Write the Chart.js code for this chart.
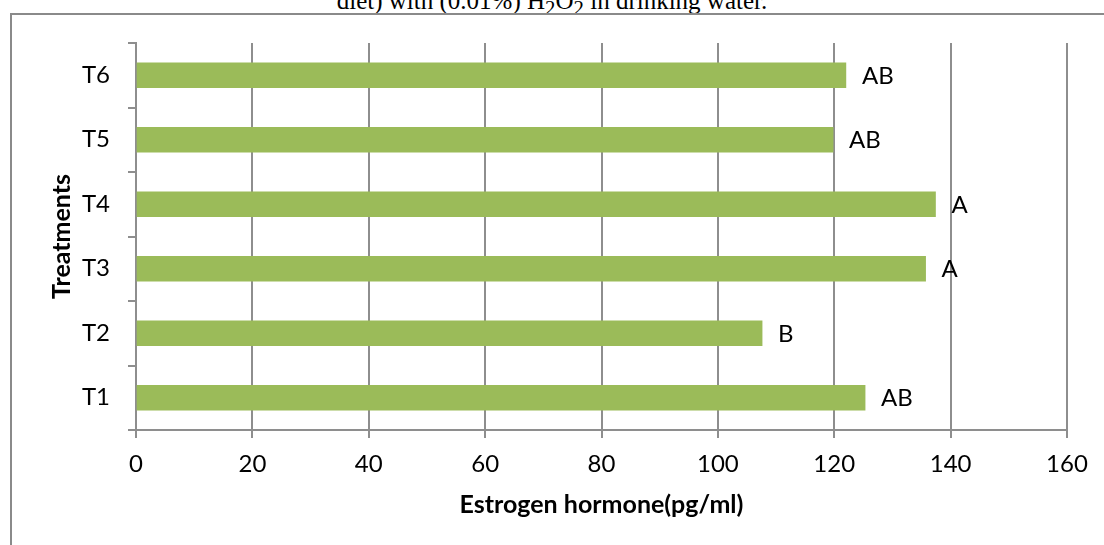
<!DOCTYPE html>
<html>
<head>
<meta charset="utf-8">
<script src="https://cdn.jsdelivr.net/npm/chart.js@4/dist/chart.umd.min.js"></script>
<style>
  html, body { margin: 0; padding: 0; background: #fff; }
  body { width: 1104px; height: 545px; position: relative; overflow: hidden; }
  .title {
    position: absolute; left: 0; right: 0; top: -13px;
    text-align: center; font-family: "Liberation Serif", "DejaVu Serif", serif;
    font-size: 25px; color: #000; white-space: nowrap;
  }
  .frame {
    position: absolute; left: 10px; top: 13px; width: 1110px; height: 560px;
    border: 2px solid #8a8a8a; box-sizing: border-box;
  }
  #chart { position: absolute; left: 0; top: 0; }
</style>
</head>
<body>
<div class="title">diet) with (0.01%) H<sub>2</sub>O<sub>2</sub> in drinking water.</div>
<div class="frame"></div>
<canvas id="chart" width="1104" height="545"></canvas>
<script>
const treatments = ['T1', 'T2', 'T3', 'T4', 'T5', 'T6'];
const estrogen = [125.3, 107.6, 135.7, 137.4, 119.8, 122.0];
const letters = ['AB', 'B', 'A', 'A', 'AB', 'AB'];
const xTicks = [0, 20, 40, 60, 80, 100, 120, 140, 160];

const font = 'Lato, "Open Sans", sans-serif';
const gridGray = '#8e8e8e';

// letters written just past the end of each bar
const letterLabels = {
  id: 'letterLabels',
  afterDatasetsDraw(chart) {
    const { ctx } = chart;
    const meta = chart.getDatasetMeta(0);
    ctx.save();
    ctx.font = '24px ' + font;
    ctx.fillStyle = '#000';
    ctx.textBaseline = 'middle';
    ctx.textAlign = 'left';
    meta.data.forEach((bar, i) => ctx.fillText(letters[i], bar.x + 16, bar.y + 1));
    ctx.restore();
  }
};

new Chart(document.getElementById('chart'), {
  type: 'bar',
  data: {
    labels: treatments,
    datasets: [{
      data: estrogen,
      backgroundColor: '#9bbb59',
      borderWidth: 0,
      barThickness: 25
    }]
  },
  options: {
    indexAxis: 'y',
    responsive: false,
    animation: false,
    layout: { padding: { left: 0, top: 43, right: 37, bottom: 0 } },
    plugins: { legend: { display: false }, tooltip: { enabled: false } },
    scales: {
      x: {
        type: 'linear',
        min: 0, max: 160,
        afterBuildTicks: (s) => { s.ticks = xTicks.map(v => ({ value: v })); },
        afterFit: (s) => { s.height = 115; },
        grid: { color: gridGray, lineWidth: 2, tickLength: 8 },
        border: { color: gridGray, width: 2 },
        ticks: { color: '#000', font: { family: font, size: 24 }, padding: 12, maxRotation: 0 },
        title: {
          display: true, text: 'Estrogen hormone(pg/ml)', color: '#000',
          font: { family: font, size: 25, weight: 'bold' }, padding: { top: 0, bottom: 25 }
        }
      },
      y: {
        reverse: true,
        afterFit: (s) => { s.width = 136; },
        grid: { color: gridGray, lineWidth: 2, tickLength: 8, drawOnChartArea: false, offset: true },
        border: { color: gridGray, width: 2 },
        ticks: { color: '#000', font: { family: font, size: 24 }, padding: 18 },
        title: {
          display: true, text: 'Treatments', color: '#000',
          font: { family: font, size: 25, weight: 'bold' }, padding: { top: 47, bottom: 0 }
        }
      }
    }
  },
  plugins: [letterLabels]
});
</script>
</body>
</html>
